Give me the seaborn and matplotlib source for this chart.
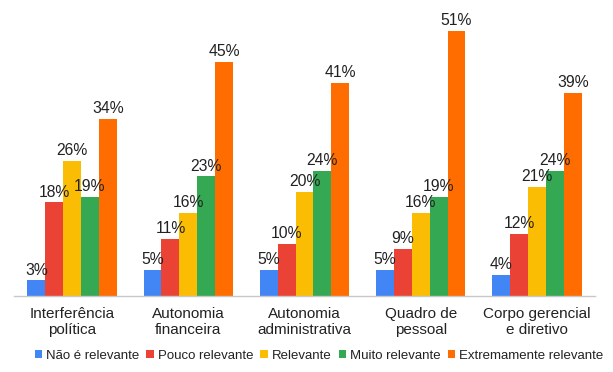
import matplotlib
matplotlib.use("Agg")
import matplotlib.pyplot as plt
import seaborn as sns
import pandas as pd
import numpy as np
from matplotlib.patches import Patch

categories = ["Interferência\npolítica", "Autonomia\nfinanceira", "Autonomia\nadministrativa",
              "Quadro de\npessoal", "Corpo gerencial\ne diretivo"]
levels = ["Não é relevante", "Pouco relevante", "Relevante", "Muito relevante", "Extremamente relevante"]
nao_relevante = [3, 5, 5, 5, 4]
pouco_relevante = [18, 11, 10, 9, 12]
relevante = [26, 16, 20, 16, 21]
muito_relevante = [19, 23, 24, 19, 24]
extremamente_relevante = [34, 45, 41, 51, 39]

colors = ["#4285F4", "#EA4335", "#FBBC04", "#34A853", "#FF6D01"]

series = [nao_relevante, pouco_relevante, relevante, muito_relevante, extremamente_relevante]
rows = []
for lvl, vals in zip(levels, series):
    for cat, v in zip(categories, vals):
        rows.append({"categoria": cat, "nivel": lvl, "valor": v})
df = pd.DataFrame(rows)

sns.set_style("white")
plt.rcParams["font.family"] = ["Liberation Sans", "DejaVu Sans"]

fig = plt.figure(figsize=(6.13, 3.72), dpi=100)
ax = fig.add_axes([14 / 613, 1 - 296 / 372, (595 - 14) / 613, (296 - 10) / 372])

sns.barplot(data=df, x="categoria", y="valor", hue="nivel", order=categories,
            hue_order=levels, palette=colors, width=0.77, saturation=1,
            linewidth=0, ax=ax, legend=False)

for cont in ax.containers:
    ax.bar_label(cont, fmt="%d%%", padding=2, fontsize=11.3, color="#222222")

ax.set_ylim(0, 55)
ax.set_xlim(-0.5, len(categories) - 0.5)
ax.set_xlabel("")
ax.set_ylabel("")
ax.set_yticks([])
for s in ["top", "right", "left"]:
    ax.spines[s].set_visible(False)
ax.spines["bottom"].set_color("#c8c8c8")
ax.spines["bottom"].set_linewidth(1)

ax.set_xticks(np.arange(len(categories)))
ax.set_xticklabels(categories, fontsize=11, color="#222222", linespacing=1.2)
ax.tick_params(axis="x", which="major", length=0, pad=8)
ax.set_xticks(np.arange(-0.5, len(categories)), minor=True)
ax.tick_params(axis="x", which="minor", length=5, color="#c8c8c8", width=1)

handles = [Patch(facecolor=c, edgecolor="none") for c in colors]
fig.legend(handles, levels, loc="center", bbox_to_anchor=(319 / 613, 1 - 356 / 372),
           ncol=5, frameon=False, fontsize=9.5, handlelength=0.55, handleheight=0.55,
           handletextpad=0.3, columnspacing=0.55, labelcolor="#222222",
           borderpad=0, borderaxespad=0)

fig.savefig("out.png", dpi=100)
